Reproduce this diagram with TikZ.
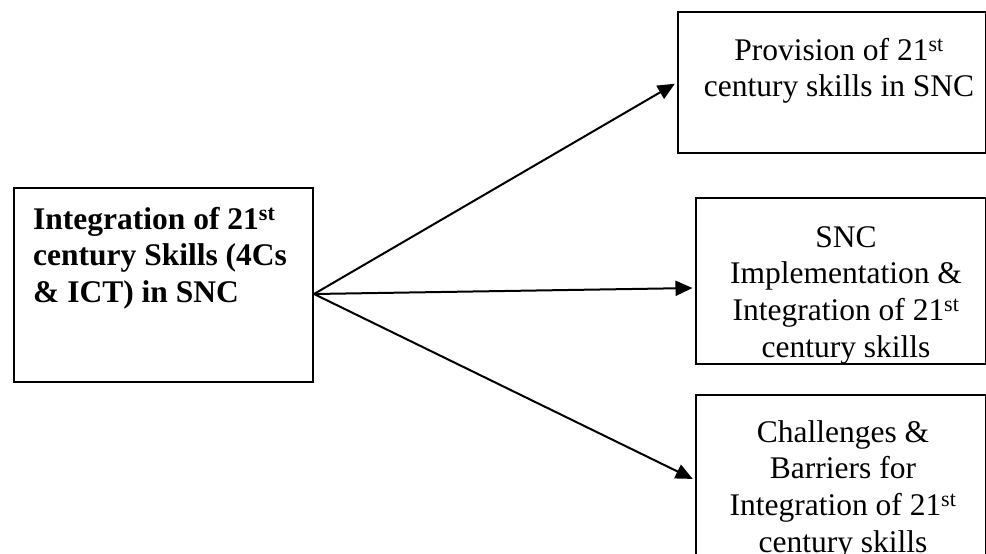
\documentclass[tikz,border=0pt]{standalone}
\usepackage{fontspec}
\setmainfont{Liberation Serif}
\usetikzlibrary{arrows.meta}

\tikzset{
  box/.style={draw, line width=2pt, rectangle, inner sep=0pt, anchor=north west},
  txt/.style={inner sep=0pt, font=\fontsize{31.5}{36.7}\selectfont},
  link/.style={line width=2pt, shorten >=2.5pt, -{Triangle[length=17pt,width=15pt]}}
}

\begin{document}
\begin{tikzpicture}[x=1pt,y=-1pt]
  \useasboundingbox (0,0) rectangle (986,554);
  \clip (0,0) rectangle (986,554);

  % frames
  \node[box, minimum width=299pt, minimum height=194pt] (core) at (13,187) {};
  \node[box, minimum width=308pt, minimum height=141pt] (prov) at (677,11) {};
  \node[box, minimum width=290pt, minimum height=166pt] (impl) at (695,197) {};
  \node[box, minimum width=290pt, minimum height=210pt] (chal) at (695,394) {};

  % captions
  \node[txt, anchor=north west, align=left, font=\fontsize{31.5}{36.7}\selectfont\bfseries] (coretxt) at (33,203.3)
    {\strut Integration of 21\textsuperscript{st}\\century Skills (4Cs\\\& ICT) in SNC};
  \node[txt, anchor=north, align=center] (provtxt) at (839,34.3)
    {\strut Provision of 21\textsuperscript{st}\\century skills in SNC};
  \node[txt, anchor=north, align=center] (impltxt) at (846,221.3)
    {\strut SNC\\Implementation \&\\Integration of 21\textsuperscript{st}\\century skills};
  \node[txt, anchor=north, align=center] (chaltxt) at (843,416.3)
    {\strut Challenges \&\\Barriers for\\Integration of 21\textsuperscript{st}\\century skills};

  % connectors
  \coordinate (src) at ([yshift=-9pt]core.east);
  \draw[link] (src) -- (prov.west);
  \draw[link] (src) -- ([yshift=-7pt]impl.west);
  \draw[link] (src) -- ([yshift=-86pt]chal.north west);
\end{tikzpicture}
\end{document}
